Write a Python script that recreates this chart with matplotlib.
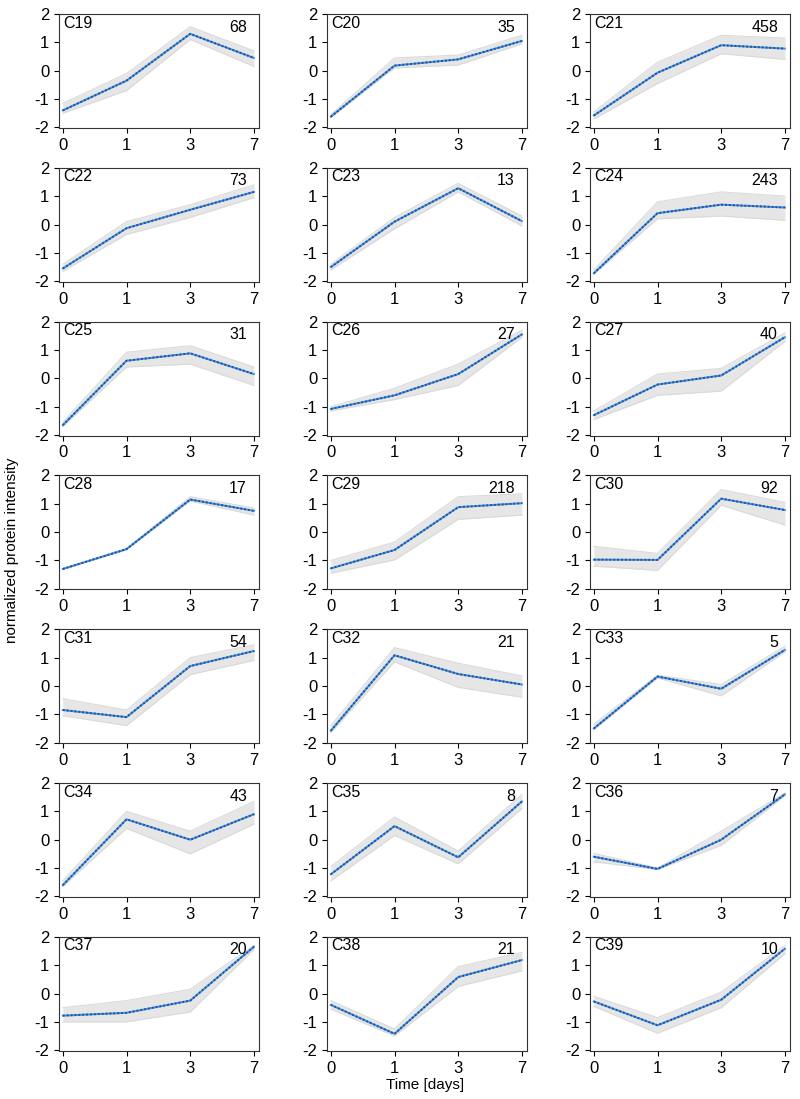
import numpy as np
import matplotlib
matplotlib.use("Agg")
from matplotlib import pyplot as plt
from matplotlib import font_manager

# time points (categorical positions on x)
time_labels = ['0', '1', '3', '7']

clusters = ['C19', 'C20', 'C21', 'C22', 'C23', 'C24', 'C25', 'C26', 'C27',
            'C28', 'C29', 'C30', 'C31', 'C32', 'C33', 'C34', 'C35', 'C36',
            'C37', 'C38', 'C39']
counts = [68, 35, 458, 73, 13, 243, 31, 27, 40,
          17, 218, 92, 54, 21, 5, 43, 8, 7,
          20, 21, 10]

# cluster centroid (blue dotted line)
means = [
    [-1.40, -0.35, 1.30, 0.45],
    [-1.62, 0.18, 0.40, 1.05],
    [-1.58, -0.07, 0.90, 0.78],
    [-1.55, -0.13, 0.52, 1.15],
    [-1.50, 0.10, 1.28, 0.12],
    [-1.72, 0.40, 0.70, 0.60],
    [-1.65, 0.62, 0.88, 0.15],
    [-1.08, -0.60, 0.15, 1.55],
    [-1.30, -0.22, 0.10, 1.45],
    [-1.30, -0.60, 1.15, 0.75],
    [-1.28, -0.63, 0.88, 1.02],
    [-0.97, -0.98, 1.18, 0.78],
    [-0.85, -1.10, 0.70, 1.23],
    [-1.58, 1.08, 0.42, 0.05],
    [-1.50, 0.33, -0.10, 1.27],
    [-1.60, 0.72, 0.00, 0.90],
    [-1.22, 0.48, -0.62, 1.35],
    [-0.60, -1.03, 0.00, 1.60],
    [-0.78, -0.68, -0.25, 1.65],
    [-0.40, -1.42, 0.58, 1.18],
    [-0.28, -1.12, -0.22, 1.58],
]
# lower / upper envelope of member proteins (grey band)
lower = [
    [-1.50, -0.70, 1.10, 0.15],
    [-1.65, 0.10, 0.20, 0.95],
    [-1.70, -0.45, 0.60, 0.40],
    [-1.65, -0.35, 0.25, 0.95],
    [-1.60, -0.15, 1.15, -0.05],
    [-1.75, 0.20, 0.30, 0.15],
    [-1.70, 0.40, 0.50, -0.25],
    [-1.15, -0.75, -0.25, 1.45],
    [-1.45, -0.60, -0.45, 1.30],
    [-1.31, -0.62, 1.10, 0.60],
    [-1.45, -0.98, 0.45, 0.60],
    [-1.20, -1.35, 0.95, 0.25],
    [-1.05, -1.40, 0.40, 0.90],
    [-1.65, 0.85, -0.05, -0.40],
    [-1.55, 0.28, -0.35, 1.20],
    [-1.65, 0.40, -0.50, 0.55],
    [-1.45, 0.15, -0.85, 1.10],
    [-0.78, -1.05, -0.20, 1.55],
    [-1.00, -1.00, -0.65, 1.55],
    [-0.55, -1.50, 0.25, 0.80],
    [-0.45, -1.40, -0.50, 1.40],
]
upper = [
    [-1.15, -0.10, 1.55, 0.70],
    [-1.55, 0.45, 0.55, 1.25],
    [-1.45, 0.30, 1.25, 1.15],
    [-1.40, 0.10, 0.70, 1.40],
    [-1.40, 0.25, 1.45, 0.30],
    [-1.60, 0.80, 1.15, 1.00],
    [-1.55, 0.92, 1.15, 0.40],
    [-1.00, -0.35, 0.50, 1.70],
    [-1.15, 0.15, 0.35, 1.60],
    [-1.28, -0.58, 1.25, 0.85],
    [-1.00, -0.35, 1.25, 1.35],
    [-0.50, -0.75, 1.50, 1.05],
    [-0.45, -0.85, 1.00, 1.45],
    [-1.40, 1.35, 0.80, 0.35],
    [-1.35, 0.38, 0.05, 1.40],
    [-1.45, 1.00, 0.30, 1.35],
    [-0.95, 0.80, -0.40, 1.60],
    [-0.48, -1.00, 0.30, 1.65],
    [-0.50, -0.25, 0.15, 1.70],
    [-0.25, -1.25, 0.95, 1.45],
    [-0.10, -0.85, 0.05, 1.70],
]

names = {f.name for f in font_manager.fontManager.ttflist}
font = 'Liberation Sans Narrow' if 'Liberation Sans Narrow' in names else 'Liberation Sans'
plt.rcParams['font.family'] = [font, 'DejaVu Sans']

fig = plt.figure(figsize=(8, 10.99), dpi=100)
W, H = 800, 1099
col_left = [59, 327, 590]
ax_w, ax_h = 200, 114
row_step = 153.8
xs = np.arange(len(time_labels))

for i, name in enumerate(clusters):
    r, c = divmod(i, 3)
    top = 14 + r * row_step
    ax = fig.add_axes([col_left[c] / W, 1 - (top + ax_h) / H, ax_w / W, ax_h / H])
    lo = np.array(lower[i])
    hi = np.array(upper[i])
    ax.fill_between(xs, lo, hi, color='#e6e6e6', lw=0, zorder=1)
    ax.plot(xs, lo, color='#dadada', lw=0.8, zorder=2)
    ax.plot(xs, hi, color='#dadada', lw=0.8, zorder=2)
    ax.plot(xs, means[i], color='#4a90d9', lw=1.4, zorder=3)
    ax.plot(xs, means[i], color='#1a56a8', lw=1.4, ls=(0, (1, 1)), zorder=4)
    ax.set_xlim(-0.06, 3.08)
    ax.set_ylim(-2.02, 2.0)
    ax.set_xticks(xs)
    ax.set_xticklabels(time_labels)
    ax.set_yticks([-2, -1, 0, 1, 2])
    ax.set_yticklabels(['-2', '-1', '0', '1', '2'])
    ax.tick_params(direction='out', length=3.5, width=0.8, labelsize=12, pad=3.5)
    for s in ax.spines.values():
        s.set_linewidth(0.8)
        s.set_color('#333333')
    ax.text(0.02, 0.92, name, transform=ax.transAxes, fontsize=11.5,
            ha='left', va='center')
    ax.text(0.94, 0.885, str(counts[i]), transform=ax.transAxes, fontsize=11.5,
            ha='right', va='center')

fig.text(12 / W, 1 - 550 / H, 'normalized protein intensity', rotation=90,
         ha='center', va='center', fontsize=11)
fig.text(425 / W, 1 - 1085 / H, 'Time [days]', ha='center', va='center',
         fontsize=11)

fig.savefig('out.png', dpi=100)
